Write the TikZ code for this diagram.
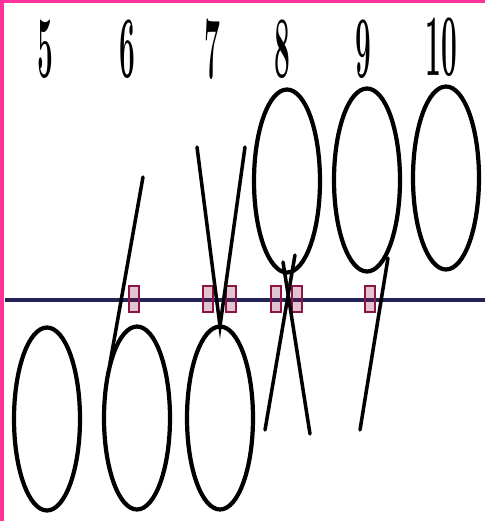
\documentclass[tikz,border=0pt]{standalone}
\usetikzlibrary{shapes.geometric}
\definecolor{bordpink}{RGB}{255,51,153}
\definecolor{midblue}{RGB}{35,35,85}
\definecolor{markred}{RGB}{140,20,70}
\begin{document}
\begin{tikzpicture}[x=0.02cm,y=-0.02cm,line width=2pt,
  ovalstroke/.style={draw,ellipse,line width=2.4pt,minimum width=1.32cm,minimum height=3.66cm,inner sep=0pt},
  barstroke/.style={line width=2pt,line cap=round},
  hitmark/.style={draw=markred,fill=markred,fill opacity=0.25,line width=1pt,minimum width=0.2cm,minimum height=0.52cm,inner sep=0pt},
  digitlabel/.style={inner sep=0pt,font=\fontsize{50}{50}\selectfont\bfseries}]
  \useasboundingbox (0,0) rectangle (485,521);
  \fill[bordpink] (0,0) rectangle (4,521);
  \fill[bordpink] (0,0) rectangle (485,3);

  \node[digitlabel] (l5) at (45,49) {\scalebox{0.32}[1]{5}};
  \node[digitlabel] (l6) at (127,49) {\scalebox{0.32}[1]{6}};
  \node[digitlabel] (l7) at (212,49) {\scalebox{0.32}[1]{7}};
  \node[digitlabel] (l8) at (282,49) {\scalebox{0.32}[1]{8}};
  \node[digitlabel] (l9) at (363,49) {\scalebox{0.32}[1]{9}};
  \node[digitlabel] (l10) at (441,47) {\scalebox{0.32}[1]{10}};

  \coordinate (ml) at (5,300);
  \coordinate (mr) at (485,300);
  \draw[midblue,line width=2.3pt] (ml) -- (mr);

  \node[hitmark] (m6) at (134,299) {};
  \node[hitmark] (m7a) at (208,299) {};
  \node[hitmark] (m7b) at (231,299) {};
  \node[hitmark] (m8a) at (276,299) {};
  \node[hitmark] (m8b) at (297,299) {};
  \node[hitmark] (m9) at (370,299) {};

  \node[ovalstroke] (e5) at (47,419) {};
  \node[ovalstroke] (e6) at (137,418) {};
  \node[ovalstroke] (e7) at (220,418) {};
  \node[ovalstroke] (e8) at (287,181) {};
  \node[ovalstroke] (e9) at (367,180) {};
  \node[ovalstroke] (e10) at (446,178) {};

  \coordinate (s6a) at (143,177);
  \coordinate (s6b) at (110,363);
  \coordinate (s7a) at (197,147);
  \coordinate (s7b) at (245,147);
  \coordinate (s7c) at (220,326);
  \coordinate (s8a) at (295,255);
  \coordinate (s8b) at (265,430);
  \coordinate (s8c) at (283,262);
  \coordinate (s8d) at (310,434);
  \coordinate (s9a) at (388,258);
  \coordinate (s9b) at (360,430);

  \draw[barstroke] (s6a) -- (s6b);
  \draw[barstroke] (s7a) -- (s7c) -- (s7b);
  \draw[barstroke] (s8a) -- (s8b);
  \draw[barstroke] (s8c) -- (s8d);
  \draw[barstroke] (s9a) -- (s9b);
\end{tikzpicture}
\end{document}
